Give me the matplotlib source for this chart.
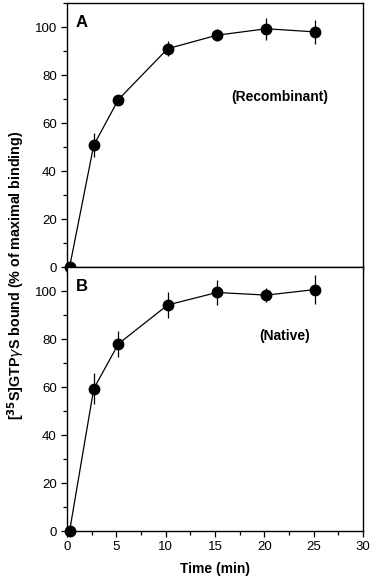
import matplotlib
matplotlib.use("Agg")
import matplotlib.pyplot as plt
from matplotlib.ticker import MultipleLocator

plt.rcParams['font.family'] = ['Liberation Sans', 'DejaVu Sans']

# time points (min)
time_a = [0.25, 2.7, 5.2, 10.2, 15.2, 20.2, 25.1]
time_b = [0.25, 2.7, 5.2, 10.2, 15.2, 20.2, 25.1]

# panel A: recombinant
bound_a = [0, 50.8, 69.8, 91.0, 96.6, 99.3, 98.0]
err_a = [0, 5.0, 2.0, 3.0, 2.5, 4.6, 5.0]

# panel B: native
bound_b = [0, 59.3, 78.0, 94.2, 99.4, 98.3, 100.6]
err_b = [0, 6.4, 5.5, 5.4, 5.3, 3.0, 5.9]


def style_axis(ax, show_xlabels):
    ax.set_xlim(0, 30)
    ax.set_ylim(0, 110)
    ax.xaxis.set_major_locator(MultipleLocator(5))
    ax.xaxis.set_minor_locator(MultipleLocator(2.5))
    ax.yaxis.set_major_locator(MultipleLocator(20))
    ax.yaxis.set_minor_locator(MultipleLocator(10))
    ax.tick_params(which='both', direction='out', labelsize=9.5, width=0.9)
    ax.tick_params(which='major', length=4)
    ax.tick_params(which='minor', length=3)
    if not show_xlabels:
        ax.tick_params(axis='x', labelbottom=False)
    for s in ax.spines.values():
        s.set_linewidth(1.0)


def draw_panel(ax, t, y, e):
    ax.errorbar(t, y, yerr=e, fmt='-o', color='black', ms=7.5, lw=0.9,
                elinewidth=0.9, capsize=0, clip_on=False, zorder=3)


fig = plt.figure(figsize=(3.73, 5.78), dpi=100)
ax_a = fig.add_axes([0.180, 0.538, 0.793, 0.4567])
ax_b = fig.add_axes([0.180, 0.0813, 0.793, 0.4567])

draw_panel(ax_a, time_a, bound_a, err_a)
draw_panel(ax_b, time_b, bound_b, err_b)
style_axis(ax_a, False)
style_axis(ax_b, True)

ax_a.text(0.03, 0.955, 'A', transform=ax_a.transAxes, fontsize=12,
          fontweight='bold', va='top', ha='left')
ax_b.text(0.03, 0.955, 'B', transform=ax_b.transAxes, fontsize=12,
          fontweight='bold', va='top', ha='left')
ax_a.text(0.72, 0.645, '(Recombinant)', transform=ax_a.transAxes,
          fontsize=10, fontweight='bold', ha='center', va='center')
ax_b.text(0.735, 0.74, '(Native)', transform=ax_b.transAxes,
          fontsize=10, fontweight='bold', ha='center', va='center')

ax_b.set_xlabel('Time (min)', fontsize=10, fontweight='bold', labelpad=6)
fig.text(0.043, 0.524, r'[$\mathbf{^{35}}$S]GTP$\gamma$S bound (% of maximal binding)',
         rotation=90, fontsize=10.3, fontweight='bold', ha='center', va='center')

fig.savefig('out.png', dpi=100)
